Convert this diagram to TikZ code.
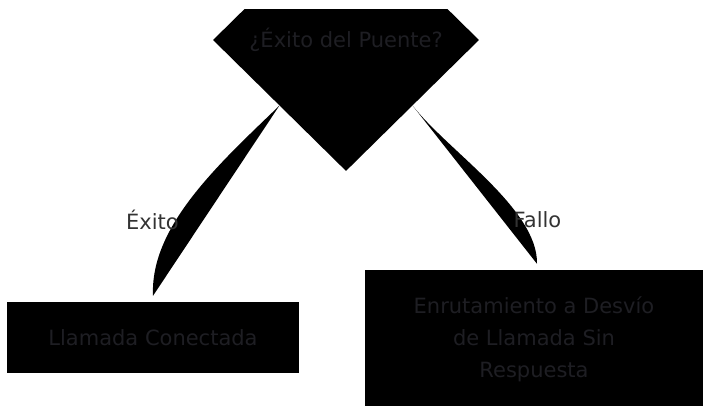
\documentclass[tikz,border=0pt]{standalone}
\usepackage{fontspec}
\setmainfont{DejaVu Sans}
\usetikzlibrary{shapes.geometric}
\definecolor{nodetext}{RGB}{30,30,35}
\definecolor{labeltext}{RGB}{51,51,51}
\tikzset{
  base/.style={fill=black, draw=none, text=nodetext, inner sep=0pt,
    font=\fontsize{21}{32}\selectfont},
  decision/.style={base, diamond, minimum width=266pt, minimum height=262pt},
  procbox/.style={base, rectangle, align=center},
  edgefill/.style={fill=black, draw=none},
  elabel/.style={text=labeltext, font=\fontsize{21}{26}\selectfont, inner sep=0pt}
}
\begin{document}
\begin{tikzpicture}[x=1pt, y=-1pt]
\useasboundingbox (0,0) rectangle (703,405);
\begin{scope}
\clip (0,9) rectangle (703,405);
\node[decision] (d) at (346,40) {¿Éxito del Puente?};
\node[procbox, minimum width=292pt, minimum height=71pt] (l) at (153,337.5) {Llamada Conectada};
\node[procbox, minimum width=338pt, minimum height=138pt] (r) at (534,339) {Enrutamiento a Desvío\\de Llamada Sin\\Respuesta};
\coordinate (le) at ([yshift=6pt]l.north);
\coordinate (re) at ([xshift=3pt,yshift=6pt]r.north);
\fill[edgefill] (d.south west) .. controls +(-60,58) and +(-3,-70) .. (le) -- cycle;
\fill[edgefill] (d.south east) .. controls +(35,45) and +(1,-55) .. (re) -- cycle;
\node[elabel] (la) at (152.5,220) {Éxito};
\node[elabel] (lb) at (537.5,220) {Fallo};
\end{scope}
\end{tikzpicture}
\end{document}
